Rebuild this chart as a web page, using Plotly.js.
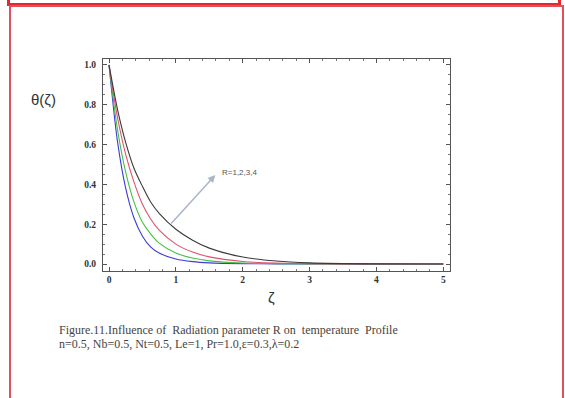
<!DOCTYPE html>
<html>
<head>
<meta charset="utf-8">
<script src="https://cdn.plot.ly/plotly-3.0.1.min.js"></script>
<style>
  body { margin: 0; background: #fff; }
  #wrap { position: relative; width: 565px; height: 398px; overflow: hidden; }
  #topbox { position: absolute; left: 7px; top: -12px; width: 548px; height: 12px; border: 3px solid #e8262e; }
  #mainbox { position: absolute; left: 9px; top: 5px; width: 551px; height: 410px; border: 2px solid #e0505a; }
  #plot { position: absolute; left: 0; top: 0; }
</style>
</head>
<body>
<div id="wrap">
  <div id="topbox"></div>
  <div id="mainbox"></div>
  <div id="plot"></div>
</div>
<script>
// zeta values shared by all curves
var zeta = [0, 0.125, 0.25, 0.375, 0.5, 0.625, 0.75, 1, 1.25, 1.5, 2, 2.5, 3, 4, 5];
// temperature profiles, R = 1..4
var theta_R1 = [1, 0.62, 0.38, 0.23, 0.14, 0.085, 0.055, 0.025, 0.012, 0.006, 0.002, 0.001, 0, 0, 0];
var theta_R2 = [1, 0.68, 0.46, 0.31, 0.21, 0.15, 0.105, 0.055, 0.03, 0.016, 0.005, 0.002, 0.001, 0, 0];
var theta_R3 = [1, 0.74, 0.55, 0.41, 0.30, 0.225, 0.17, 0.10, 0.06, 0.036, 0.013, 0.005, 0.002, 0, 0];
var theta_R4 = [1, 0.78, 0.61, 0.48, 0.39, 0.31, 0.255, 0.175, 0.12, 0.08, 0.035, 0.015, 0.006, 0.001, 0];

var colors = ['#3b3bd6', '#45c045', '#e0506e', '#3a3a3a'];
var series = [theta_R1, theta_R2, theta_R3, theta_R4];

var data = [];
for (var i = 0; i < series.length; i++) {
  data.push({
    type: 'scatter', mode: 'lines',
    x: zeta, y: series[i],
    line: {color: colors[i], width: 1.1, shape: 'spline', smoothing: 0.8},
    showlegend: false, hoverinfo: 'skip'
  });
}

var tickfont = {family: 'Liberation Serif', size: 9.5, color: '#333', weight: 'bold'};

var layout = {
  width: 565, height: 398,
  margin: {l: 103, r: 115, t: 59, b: 127},
  paper_bgcolor: 'rgba(0,0,0,0)',
  plot_bgcolor: '#fff',
  xaxis: {
    range: [-0.09, 5.1], dtick: 1, tick0: 0,
    showline: true, linecolor: '#555', linewidth: 1, mirror: 'ticks',
    ticks: 'inside', ticklen: 4, tickcolor: '#555',
    minor: {dtick: 0.2, ticks: 'inside', ticklen: 2, tickcolor: '#777'},
    showgrid: false, zeroline: false,
    tickfont: tickfont, tickformat: 'd'
  },
  yaxis: {
    range: [-0.035, 1.03], dtick: 0.2, tick0: 0,
    showline: true, linecolor: '#555', linewidth: 1, mirror: 'ticks',
    ticks: 'inside', ticklen: 4, tickcolor: '#555',
    minor: {dtick: 0.05, ticks: 'inside', ticklen: 2, tickcolor: '#777'},
    showgrid: false, zeroline: false, ticklabelstandoff: 4,
    tickfont: tickfont, tickformat: '.1f'
  },
  annotations: [
    {xref: 'paper', yref: 'paper', x: -0.13, y: 0.807, xanchor: 'right', yanchor: 'middle',
     text: 'θ(ζ)', showarrow: false,
     font: {family: 'Liberation Sans', size: 15, color: '#333'}},
    {xref: 'paper', yref: 'paper', x: 0.487, y: -0.123, xanchor: 'center', yanchor: 'middle',
     text: 'ζ', showarrow: false,
     font: {family: 'Liberation Sans', size: 15, color: '#333'}},
    // arrow showing increasing R
    {x: 1.59, y: 0.447, ax: 0.91, ay: 0.196, axref: 'x', ayref: 'y', text: '',
     showarrow: true, arrowhead: 2, arrowsize: 1, arrowwidth: 1.5, arrowcolor: '#a9b6c6'},
    {x: 1.66, y: 0.46, text: 'R=1,2,3,4', showarrow: false, xanchor: 'left', yanchor: 'middle',
     font: {family: 'Liberation Sans', size: 8, color: '#555'}},
    {xref: 'paper', yref: 'paper', x: -0.1326, y: -0.278, xanchor: 'left', yanchor: 'middle', showarrow: false,
     text: 'Figure.11.Influence of  Radiation parameter R on  temperature  Profile',
     font: {family: 'Liberation Serif', size: 12, color: '#444'}},
    {xref: 'paper', yref: 'paper', x: -0.1326, y: -0.344, xanchor: 'left', yanchor: 'middle', showarrow: false,
     text: 'n=0.5, Nb=0.5, Nt=0.5, Le=1, Pr=1.0,ε=0.3,λ=0.2',
     font: {family: 'Liberation Serif', size: 12, color: '#444'}}
  ]
};

Plotly.newPlot('plot', data, layout, {displayModeBar: false, staticPlot: true});
</script>
</body>
</html>
